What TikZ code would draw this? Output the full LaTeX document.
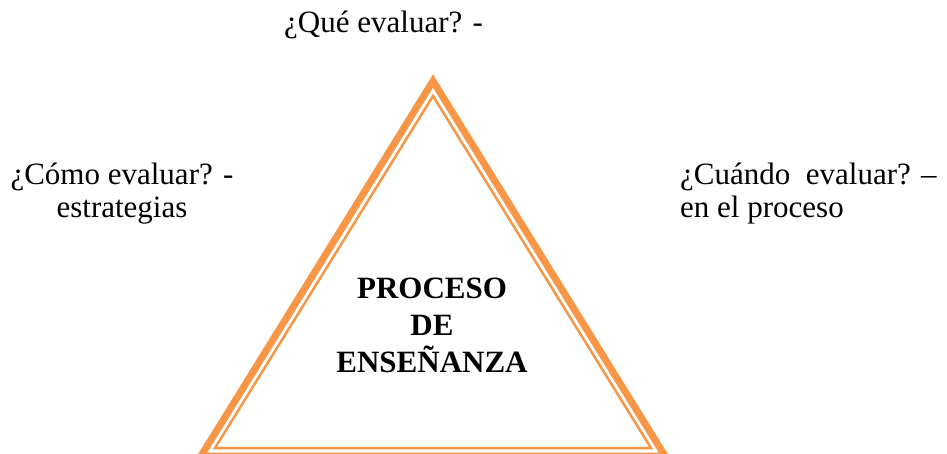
\documentclass[tikz,border=0pt]{standalone}
\usepackage{fontspec}
\setmainfont{Liberation Serif}
\definecolor{naranja}{RGB}{247,150,70}

\begin{document}
\begin{tikzpicture}[x=1pt,y=-1pt,
    lbl/.style={inner sep=0pt, font=\fontsize{31}{33}\selectfont},
    marco/.style={naranja, line join=miter}]
    \useasboundingbox (0,0) rectangle (947,454);
    \clip (0,0) rectangle (947,454);

    \draw[marco, line width=7pt] (433,81) -- (201,456) -- (665,456) -- cycle;
    \draw[marco, line width=2.5pt] (433,96) -- (215,448) -- (651,448) -- cycle;

    \node[lbl, anchor=base west] (que) at (284,33) {¿Qué evaluar? -};
    \node[lbl, anchor=base, align=center] (como) at (122,218) {¿Cómo evaluar? -\\estrategias};
    \node[lbl, anchor=base west, align=left] (cuando) at (680,218) {¿Cuándo\ \ evaluar? –\\en el proceso};

    \node[lbl, anchor=base, align=center, font=\fontsize{31}{37}\selectfont\bfseries] (proceso) at (432,372) {PROCESO\\DE\\ENSEÑANZA};
\end{tikzpicture}
\end{document}
